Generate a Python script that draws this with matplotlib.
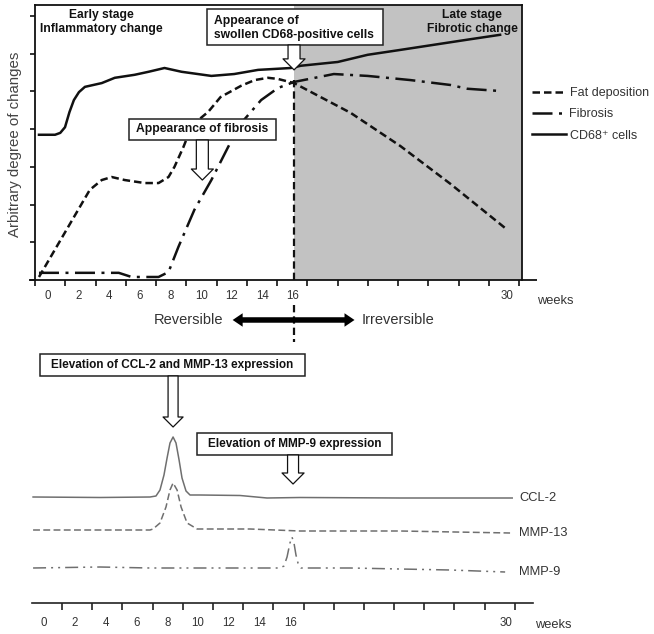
import numpy as np
import matplotlib
matplotlib.use("Agg")
import matplotlib.pyplot as plt
from matplotlib.patches import Rectangle, FancyArrowPatch, ArrowStyle
from matplotlib.lines import Line2D

plt.rcParams['font.family'] = ['Liberation Sans', 'DejaVu Sans']

# ---------------- data (weeks, arbitrary level) ----------------
cd68_weeks = [-0.59, 0.46, 0.8, 1.11, 1.4, 1.69, 2.02, 2.41, 3.51, 4.36, 5.66, 6.57, 7.61,
              8.72, 10.67, 12.16, 13.72, 15.87, 16.52, 18.93, 20.88, 23.02, 27.38, 29.53]
cd68_level = [3.85, 3.85, 3.9, 4.05, 4.45, 4.77, 4.98, 5.12, 5.22, 5.36, 5.44, 5.52, 5.62,
              5.52, 5.41, 5.46, 5.57, 5.62, 5.68, 5.78, 5.97, 6.10, 6.37, 6.50]

fat_weeks = [-0.59, 2.73, 3.51, 4.16, 5.01, 6.31, 7.22, 7.87, 8.26, 8.85, 9.24, 9.82,
             10.47, 11.27, 12.62, 13.5, 14.37, 15.02, 16.07, 19.77, 23.02, 26.28, 29.85]
fat_level = [0.08, 2.39, 2.65, 2.73, 2.65, 2.57, 2.57, 2.73, 3.00, 3.53, 3.93, 4.24,
             4.46, 4.85, 5.15, 5.30, 5.36, 5.33, 5.22, 4.43, 3.55, 2.55, 1.38]

fib_weeks = [-0.59, 4.62, 5.46, 7.22, 7.87, 8.52, 9.56, 10.67, 11.77, 12.62, 13.92, 15.02,
             16.07, 18.67, 20.88, 23.67, 26.28, 27.38, 29.53]
fib_level = [0.19, 0.19, 0.08, 0.08, 0.21, 0.88, 1.86, 2.65, 3.53, 4.16, 4.77, 5.09,
             5.25, 5.46, 5.41, 5.30, 5.17, 5.07, 5.01]

ccl2_weeks = [-0.71, 3.64, 6.88, 7.27, 7.53, 7.79, 7.99, 8.18, 8.38, 8.57, 8.77, 8.96,
              9.22, 9.48, 10.13, 12.73, 14.48, 16.62, 23.1, 30.4]
ccl2_level = [10.6, 10.55, 10.6, 10.7, 11.3, 12.8, 14.5, 16.0, 16.6, 16.0, 14.3, 12.5,
              11.2, 10.8, 10.8, 10.75, 10.5, 10.55, 10.5, 10.5]

mmp13_weeks = [-0.71, 6.88, 7.08, 7.53, 7.92, 8.18, 8.38, 8.64, 8.9, 9.29, 9.94, 13.38,
               16.62, 23.12, 30.26]
mmp13_level = [7.3, 7.3, 7.4, 8.0, 9.6, 11.3, 12.0, 11.3, 9.6, 8.0, 7.4, 7.4,
               7.2, 7.2, 7.0]

mmp9_weeks = [-0.71, 3.64, 6.88, 10.13, 15.32, 15.58, 15.78, 15.97, 16.1, 16.23, 16.36,
              16.49, 16.69, 19.87, 23.12, 26.36, 29.94]
mmp9_level = [3.5, 3.6, 3.5, 3.5, 3.5, 3.7, 4.6, 6.0, 6.6, 6.0, 4.8, 4.0, 3.5, 3.5,
              3.4, 3.3, 3.1]

tick_label_weeks = [0, 2, 4, 6, 8, 10, 12, 14, 16, 30]
tick_labels = ['0', '2', '4', '6', '8', '10', '12', '14', '16', '30']
series_names = ['Fat deposition', 'Fibrosis', 'CD68\u207a cells']
expr_names = ['CCL-2', 'MMP-13', 'MMP-9']
transition_week = 16.07

# ---------------- layout helpers ----------------
W, H = 654, 634
fig = plt.figure(figsize=(W / 100, H / 100), dpi=100)


def fx(px):
    return px / W


def fy(py):
    return 1 - py / H


TXT = '#333333'
K = '#111111'

# ================= top panel =================
ax = fig.add_axes([fx(35), fy(280), (522 - 35) / W, (280 - 5) / H])
ax.set_xlim(-0.715, 30.96)
ax.set_ylim(0, 7.29)
ax.axvspan(transition_week, 31, color='#c2c2c2', zorder=0, lw=0)

for s in ['top', 'right', 'left']:
    ax.spines[s].set_color(K)
    ax.spines[s].set_linewidth(1.3)
ax.spines['bottom'].set_visible(False)
ax.plot([-0.012, 1.031], [0, 0], transform=ax.transAxes, color=K, lw=1.3,
        clip_on=False, solid_capstyle='butt')

major_ticks = [-0.85 + 1.976 * i for i in range(17)]
ax.set_xticks(major_ticks)
ax.set_xticklabels([])
ax.tick_params(axis='x', which='major', direction='out', length=4.5, width=1.2, color=K)
ax.set_xticks(tick_label_weeks, labels=tick_labels, minor=True)
ax.tick_params(axis='x', which='minor', length=0, pad=7, labelsize=8.3, labelcolor=TXT)
ax.set_yticks(range(8))
ax.set_yticklabels([])
ax.tick_params(axis='y', direction='out', length=3.8, width=1.2, color=K)

l_fat, = ax.plot(fat_weeks, fat_level, color=K, lw=1.8, dashes=(3.0, 1.6), zorder=3)
l_fib, = ax.plot(fib_weeks, fib_level, color=K, lw=1.8, dashes=(8, 2.6, 1.2, 2.6), zorder=3)
l_cd, = ax.plot(cd68_weeks, cd68_level, color=K, lw=1.8, zorder=3)

# vertical dashed transition line
ax.plot([transition_week, transition_week], [5.3, 0], color=K, lw=1.6, dashes=(3.3, 1.8),
        clip_on=False, zorder=4)
ax.plot([transition_week, transition_week], [-0.66, -1.64], color=K, lw=1.6,
        dashes=(3.3, 1.8), clip_on=False, zorder=4)

# legend
leg_handles = [
    Line2D([], [], color=K, lw=1.8, dashes=(3.0, 1.6)),
    Line2D([], [], color=K, lw=1.8, dashes=(8, 2.6, 1.2, 2.6)),
    Line2D([], [], color=K, lw=1.8),
]
ax.legend(leg_handles, series_names, loc='upper left', bbox_to_anchor=(fx(532), fy(87)),
          bbox_transform=fig.transFigure, frameon=False, fontsize=9, handlelength=2.75,
          handletextpad=0.25, labelspacing=0.75, borderpad=0, borderaxespad=0,
          labelcolor=TXT)

# stage texts
ax.text(3.51, 6.84, 'Early stage\nInflammatory change', ha='center', va='center',
        fontsize=8.7, fontweight='bold', linespacing=1.2, color=K)
ax.text(27.7, 6.84, 'Late stage\nFibrotic change', ha='center', va='center',
        fontsize=8.7, fontweight='bold', linespacing=1.2, color=K)


def box(axis, x0, x1, y0, y1):
    axis.add_patch(Rectangle((x0, y0), x1 - x0, y1 - y0, facecolor='white',
                             edgecolor='#222222', lw=1.1, clip_on=False, zorder=6))


def hollow_arrow(axis, x, y0, y1, tail=1.2, head=2.2, hl=1.1):
    st = ArrowStyle.Simple(head_length=hl, head_width=head, tail_width=tail)
    axis.add_patch(FancyArrowPatch((x, y0), (x, y1), arrowstyle=st, mutation_scale=7.2,
                                   facecolor='white', edgecolor='#111111', lw=0.9,
                                   shrinkA=0, shrinkB=0, clip_on=False, zorder=6))


# CD68 box
box(ax, 10.4, 21.86, 6.23, 7.19)
ax.text(10.86, 6.69, 'Appearance of\nswollen CD68-positive cells', ha='left', va='center',
        fontsize=8.7, fontweight='bold', linespacing=1.2, color=K, zorder=7)
hollow_arrow(ax, 16.07, 6.23, 5.57)

# Fibrosis box
box(ax, 5.27, 14.89, 3.71, 4.27)
ax.text(10.08, 3.99, 'Appearance of fibrosis', ha='center', va='center',
        fontsize=8.7, fontweight='bold', color=K, zorder=7)
hollow_arrow(ax, 10.08, 3.71, 2.65)

# Reversible / Irreversible
rev_style = ArrowStyle.Simple(head_length=1.0, head_width=1.35, tail_width=0.55)
for end in (12.06, 20.02):
    ax.add_patch(FancyArrowPatch((transition_week, -1.06), (end, -1.06), arrowstyle=rev_style,
                                 mutation_scale=7.2, color='black', lw=0, shrinkA=0,
                                 shrinkB=0, clip_on=False, zorder=5))
ax.text(11.45, -1.06, 'Reversible', ha='right', va='center', fontsize=10.5, color=TXT)
ax.text(20.5, -1.06, 'Irreversible', ha='left', va='center', fontsize=10.5, color=TXT)

fig.text(fx(15), fy(144), 'Arbitrary degree of changes', rotation=90, ha='center',
         va='center', fontsize=10.8, color='#444444')
fig.text(fx(555), fy(301), 'weeks', ha='center', va='center', fontsize=9.3, color=TXT)

# ================= bottom panel =================
GR = '#6f6f6f'
bx = fig.add_axes([fx(32), fy(603), (533 - 32) / W, (603 - 380) / H])
bx.set_xlim(-0.78, 31.75)
bx.set_ylim(0, 22.3)
for s in ['top', 'right', 'left']:
    bx.spines[s].set_visible(False)
bx.spines['bottom'].set_color('#222222')
bx.spines['bottom'].set_linewidth(1.2)
bx.set_yticks([])
bx.set_xticks([1.17 + 1.96 * i for i in range(16)])
bx.set_xticklabels([])
bx.tick_params(axis='x', which='major', direction='out', length=5, width=1.2, color='#222222')
bx.set_xticks(tick_label_weeks, labels=tick_labels, minor=True)
bx.tick_params(axis='x', which='minor', length=0, pad=10, labelsize=8.3, labelcolor=TXT)

bx.plot(ccl2_weeks, ccl2_level, color=GR, lw=1.1)
bx.plot(mmp13_weeks, mmp13_level, color=GR, lw=1.1, dashes=(4.5, 2.2))
bx.plot(mmp9_weeks, mmp9_level, color=GR, lw=1.1, dashes=(8.5, 3.3, 1.3, 3.3, 1.3, 3.3))

for name, yv in zip(expr_names, [ccl2_level[-1], mmp13_level[-1], mmp9_level[-1]]):
    bx.text(30.84, yv, name, ha='left', va='center', fontsize=9.3, color=TXT, clip_on=False)

box(bx, -0.26, 16.95, 22.7, 24.9)
bx.text(8.31, 23.8, 'Elevation of CCL-2 and MMP-13 expression', ha='center', va='center',
        fontsize=8.5, fontweight='bold', color=K, zorder=7)
hollow_arrow(bx, 8.38, 22.7, 17.6, tail=1.0, head=2.0, hl=1.0)

box(bx, 9.94, 22.6, 14.8, 17.0)
bx.text(16.27, 15.9, 'Elevation of MMP-9 expression', ha='center', va='center',
        fontsize=8.5, fontweight='bold', color=K, zorder=7)
hollow_arrow(bx, 16.17, 14.8, 11.9, tail=1.1, head=2.2, hl=1.1)

fig.text(fx(553), fy(625), 'weeks', ha='center', va='center', fontsize=9.3, color=TXT)

fig.savefig('out.png', dpi=100)
